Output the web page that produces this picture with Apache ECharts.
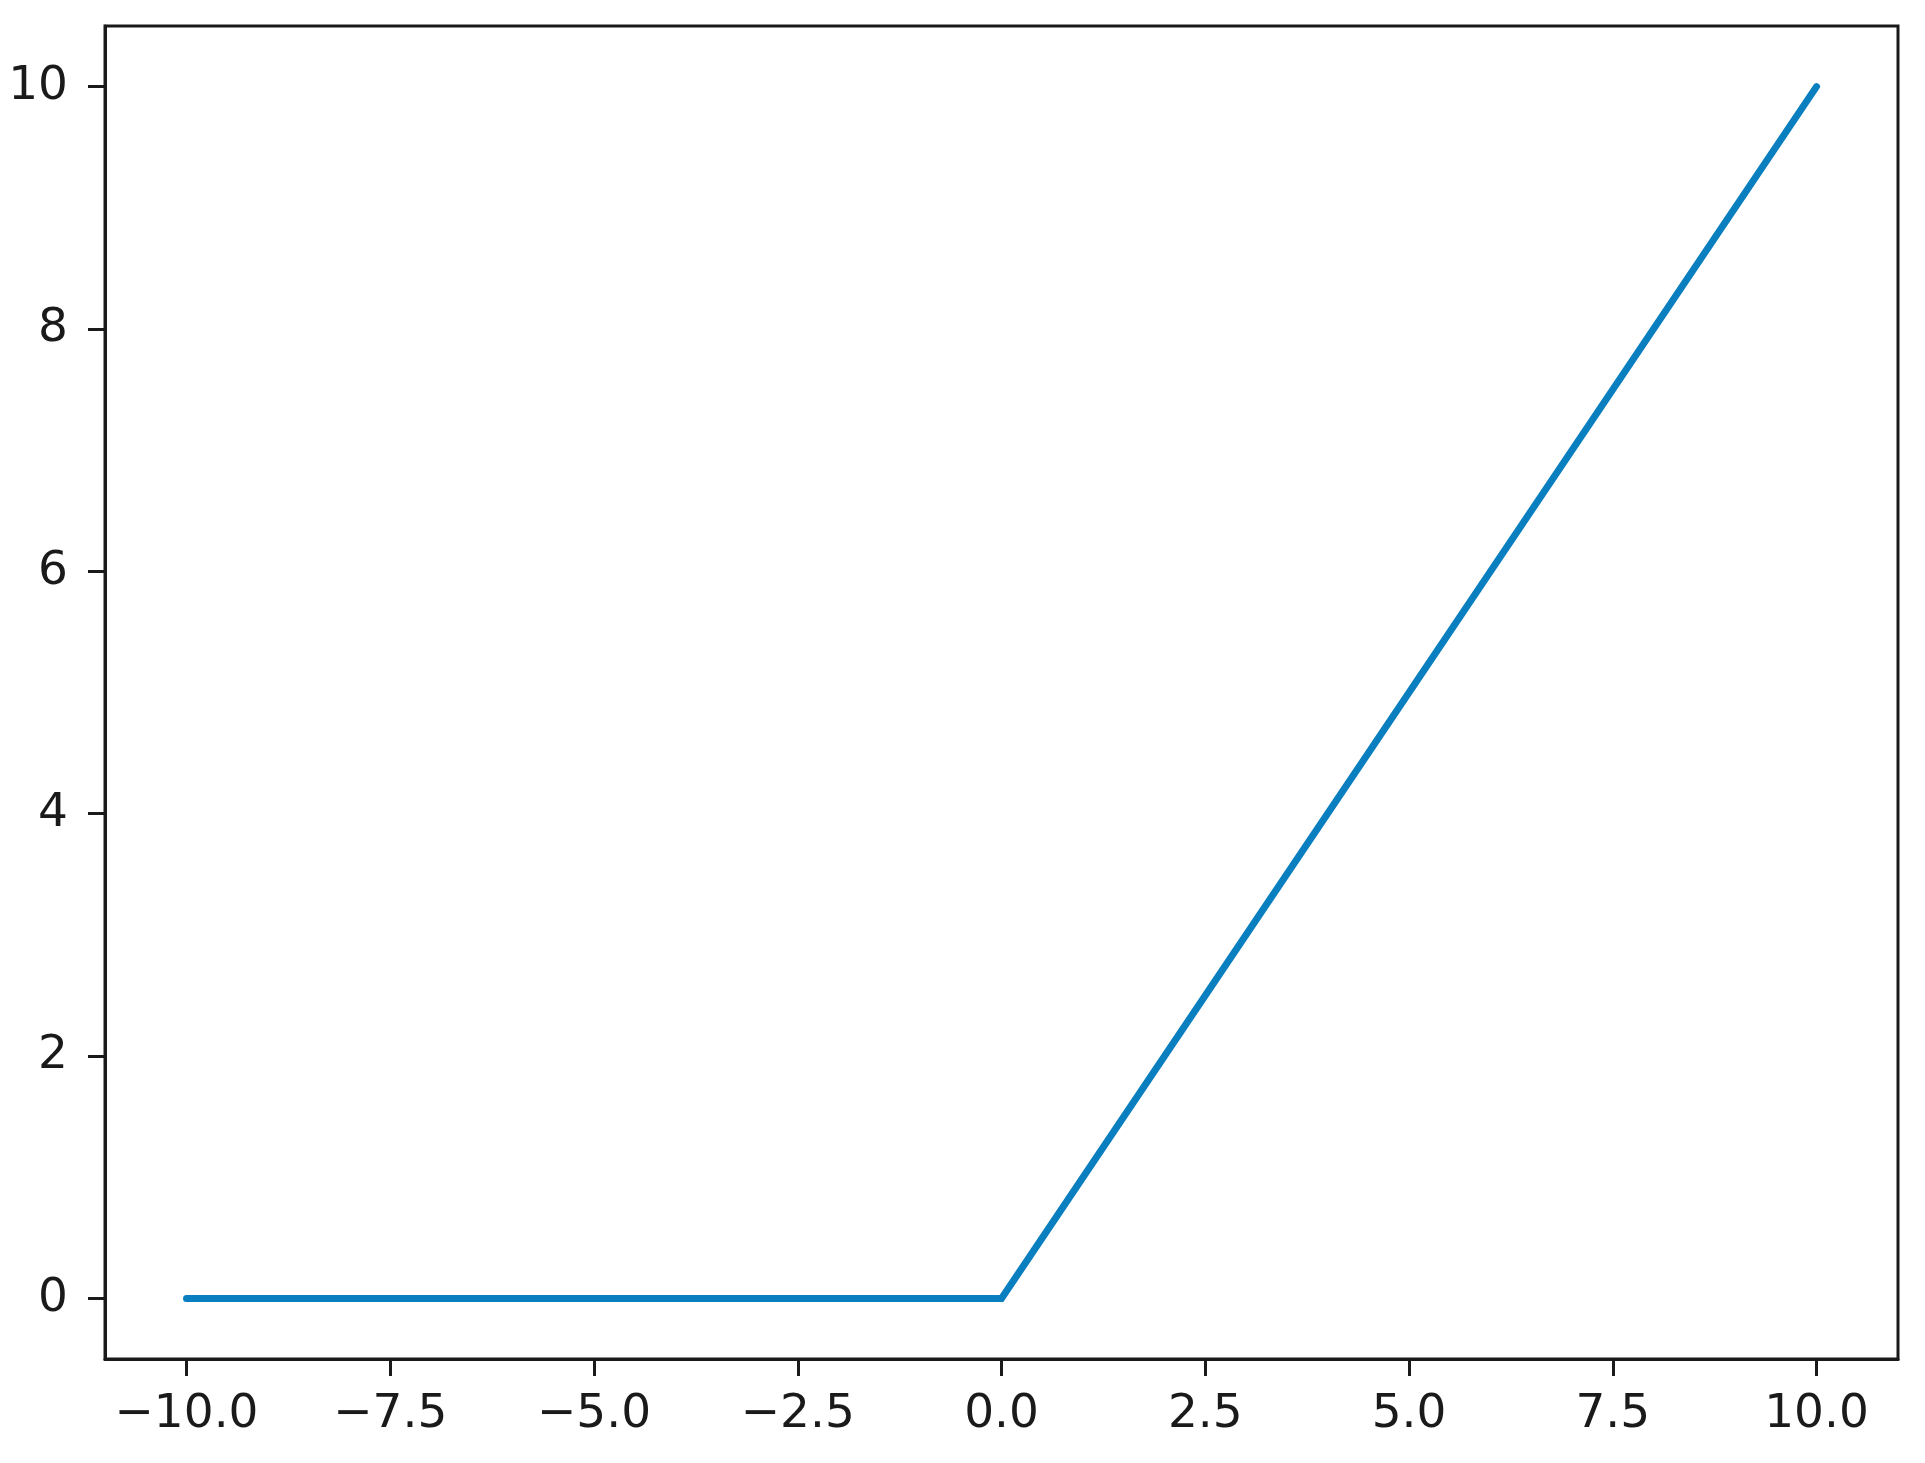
<!DOCTYPE html>
<html>
<head>
<meta charset="utf-8">
<script src="https://cdn.jsdelivr.net/npm/echarts@6/dist/echarts.min.js"></script>
<style>
  html, body { margin: 0; padding: 0; background: #fff; }
  #main { width: 1925px; height: 1463px; }
</style>
</head>
<body>
<div id="main"></div>
<script>
// relu curve
var xValues = [-10, 0, 10];
var yValues = [0, 0, 10];
var xTicks = [-10, -7.5, -5, -2.5, 0, 2.5, 5, 7.5, 10];
var yTicks = [0, 2, 4, 6, 8, 10];

var chart = echarts.init(document.getElementById('main'));

var points = xValues.map(function (x, i) { return [x, yValues[i]]; });

function minus(s) { return s.replace('-', '\u2212'); }

var option = {
  animation: false,
  grid: { left: 105, right: 27, top: 26, bottom: 104, show: true, borderColor: '#1a1a1a', borderWidth: 3, backgroundColor: '#fff' },
  xAxis: {
    type: 'value',
    min: -11, max: 11,
    axisLine: { show: true, onZero: false, lineStyle: { color: '#1a1a1a', width: 3 } },
    axisTick: { show: true, length: 17, lineStyle: { color: '#1a1a1a', width: 3 }, customValues: xTicks },
    axisLabel: {
      show: true, margin: 32, fontSize: 47, color: '#1a1a1a', fontFamily: 'DejaVu Sans',
      customValues: xTicks,
      formatter: function (v) { return minus(v.toFixed(1)); }
    },
    splitLine: { show: false }
  },
  yAxis: {
    type: 'value',
    min: -0.5, max: 10.5,
    axisLine: { show: true, onZero: false, lineStyle: { color: '#1a1a1a', width: 3 } },
    axisTick: { show: true, length: 17, lineStyle: { color: '#1a1a1a', width: 3 }, customValues: yTicks },
    axisLabel: {
      show: true, margin: 37, fontSize: 47, color: '#1a1a1a', fontFamily: 'DejaVu Sans',
      customValues: yTicks,
      formatter: function (v) { return String(v); }
    },
    splitLine: { show: false }
  },
  series: [{
    type: 'line',
    data: points,
    showSymbol: false,
    symbol: 'none',
    lineStyle: { color: '#0a7fc0', width: 7, cap: 'round', join: 'miter' }
  }]
};

chart.setOption(option);
</script>
</body>
</html>
